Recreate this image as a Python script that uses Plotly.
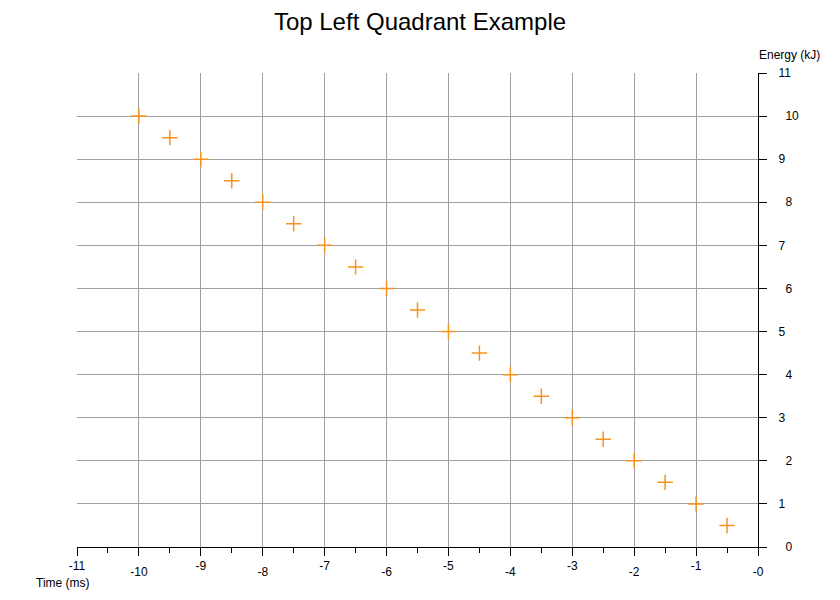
import plotly.graph_objects as go

time_ms = [-10, -9.5, -9, -8.5, -8, -7.5, -7, -6.5, -6, -5.5,
           -5, -4.5, -4, -3.5, -3, -2.5, -2, -1.5, -1, -0.5]
energy_kj = [10, 9.5, 9, 8.5, 8, 7.5, 7, 6.5, 6, 5.5,
             5, 4.5, 4, 3.5, 3, 2.5, 2, 1.5, 1, 0.5]

x_ticks = [-11, -10, -9, -8, -7, -6, -5, -4, -3, -2, -1, 0]
x_tick_labels = ["-11", "-10", "-9", "-8", "-7", "-6", "-5", "-4", "-3", "-2", "-1", "-0"]
x_minor_ticks = [-10.5, -9.5, -8.5, -7.5, -6.5, -5.5, -4.5, -3.5, -2.5, -1.5, -0.5]
y_ticks = [0, 1, 2, 3, 4, 5, 6, 7, 8, 9, 10, 11]
y_tick_labels = ["0", "1", "2", "3", "4", "5", "6", "7", "8", "9", "10", "11"]

FONT = "Liberation Sans, Arial, sans-serif"
ORANGE = "#F7931E"
GRID = "#A0A0A0"

# staggered tick labels: split into two sets
x_upper_vals = x_ticks[0::2]
x_upper_text = x_tick_labels[0::2]
x_lower_vals = x_ticks[1::2]
x_lower_text = x_tick_labels[1::2]
y_near_vals = y_ticks[1::2]
y_near_text = y_tick_labels[1::2]
y_far_vals = y_ticks[0::2]
y_far_text = y_tick_labels[0::2]

fig = go.Figure()
fig.add_trace(go.Scatter(
    x=time_ms, y=energy_kj, mode="markers",
    marker=dict(symbol="cross-thin", size=11, line=dict(color=ORANGE, width=1.5), color=ORANGE),
    showlegend=False, hoverinfo="x+y",
))
# invisible trace so the overlay axes (second label row) get drawn
fig.add_trace(go.Scatter(
    x=time_ms[:1], y=energy_kj[:1], xaxis="x2", yaxis="y2", mode="markers",
    marker=dict(opacity=0), showlegend=False, hoverinfo="skip",
))

fig.update_layout(
    width=832, height=592,
    margin=dict(l=69, r=82, t=65, b=53, autoexpand=False),
    paper_bgcolor="white", plot_bgcolor="white",
    font=dict(family=FONT, size=12, color="black"),
    title=dict(text="Top Left Quadrant Example", x=(420 - 8) / 832, xanchor="center",
               y=1 - 5 / 592, yanchor="top", font=dict(size=24, family=FONT)),
    xaxis=dict(
        range=[-11, 0], tickvals=x_upper_vals, ticktext=x_upper_text,
        showgrid=True, gridcolor=GRID, gridwidth=1, zeroline=False,
        showline=True, linecolor="black", linewidth=1,
        ticks="outside", ticklen=8, tickcolor="black",
        ticklabelstandoff=0, automargin=False,
        minor=dict(tickvals=x_minor_ticks, ticks="outside", ticklen=5, tickcolor="black", showgrid=False),
    ),
    xaxis2=dict(
        range=[-11, 0], overlaying="x", anchor="y2", side="bottom",
        tickvals=x_lower_vals, ticktext=x_lower_text,
        showgrid=True, gridcolor=GRID, gridwidth=1, zeroline=False, showline=False,
        ticks="outside", ticklen=8, tickcolor="black",
        ticklabelstandoff=6, automargin=False,
    ),
    yaxis=dict(
        range=[0, 11], side="right", tickvals=y_near_vals, ticktext=y_near_text,
        showgrid=True, gridcolor=GRID, gridwidth=1, zeroline=False,
        showline=True, linecolor="black", linewidth=1,
        ticks="outside", ticklen=8, tickcolor="black",
        ticklabelstandoff=9, automargin=False,
    ),
    yaxis2=dict(
        range=[0, 11], overlaying="y", anchor="x2", side="right",
        tickvals=y_far_vals, ticktext=y_far_text,
        showgrid=True, gridcolor=GRID, gridwidth=1, zeroline=False, showline=False,
        ticks="outside", ticklen=8, tickcolor="black",
        ticklabelstandoff=16, automargin=False,
    ),
    annotations=[
        dict(text="Time (ms)", xref="paper", yref="paper", x=-0.02, y=-0.076,
             xanchor="center", yanchor="middle", showarrow=False, font=dict(size=12)),
        dict(text="Energy (kJ)", xref="paper", yref="paper", x=1.046, y=1.038,
             xanchor="center", yanchor="middle", showarrow=False, font=dict(size=12)),
    ],
)

fig.write_html("out.html")
